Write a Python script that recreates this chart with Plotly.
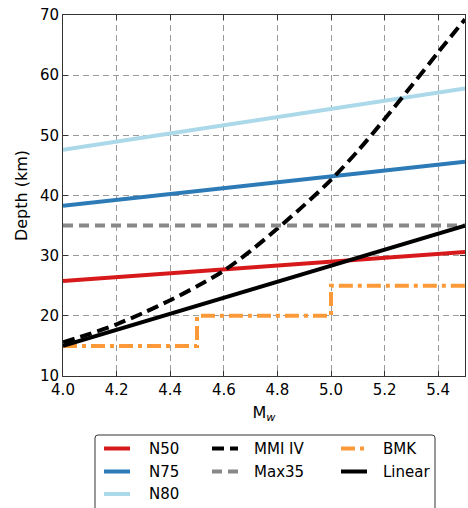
import plotly.graph_objects as go

mw_ends = [4.0, 5.5]
n50 = [25.8, 30.6]
n75 = [38.3, 45.6]
n80 = [47.6, 57.8]
max35 = [35.0, 35.0]
linear = [15.0, 35.0]

mmi_x = [4.0, 4.1, 4.2, 4.3, 4.4, 4.5, 4.6, 4.7, 4.8, 4.9, 5.0, 5.1, 5.2, 5.3, 5.4, 5.5]
mmi_y = [15.6, 17.0, 18.6, 20.5, 22.6, 24.9, 27.5, 30.8, 34.5, 38.4, 42.6, 47.4, 52.7, 58.2, 63.8, 69.3]

bmk_x = [4.0, 4.5, 4.5, 5.0, 5.0, 5.5]
bmk_y = [15, 15, 20, 20, 25, 25]

x_ticks = [4.0, 4.2, 4.4, 4.6, 4.8, 5.0, 5.2, 5.4]
y_ticks = [10, 20, 30, 40, 50, 60, 70]

legend_names = ["N50", "N75", "N80", "MMI IV", "Max35", "BMK", "Linear"]

FONT = "DejaVu Sans"
LW = 4

styles = {
    "N50": dict(color="#d7191c", width=LW),
    "N75": dict(color="#2c7bb6", width=LW),
    "N80": dict(color="#abd9e9", width=LW),
    "MMI IV": dict(color="black", width=LW, dash="12px,6px"),
    "Max35": dict(color="#888888", width=LW, dash="10px,6px"),
    "BMK": dict(color="#fc9a3a", width=LW, dash="14px,5px,4px,5px"),
    "Linear": dict(color="black", width=LW),
}

fig = go.Figure()
series = [
    ("N50", mw_ends, n50),
    ("N75", mw_ends, n75),
    ("N80", mw_ends, n80),
    ("MMI IV", mmi_x, mmi_y),
    ("Max35", mw_ends, max35),
    ("BMK", bmk_x, bmk_y),
    ("Linear", mw_ends, linear),
]
for name, xs, ys in series:
    line = dict(styles[name])
    if name == "MMI IV":
        line["shape"] = "spline"
        line["smoothing"] = 0.8
    fig.add_trace(go.Scatter(x=xs, y=ys, mode="lines", name=name,
                             line=line, showlegend=False, cliponaxis=True))

axis_common = dict(
    showline=True, linecolor="#333333", linewidth=1, mirror="allticks",
    ticks="inside", ticklen=5, tickcolor="#333333",
    showgrid=True, gridcolor="#9a9a9a", gridwidth=1, griddash="6px,4px",
    zeroline=False, tickfont=dict(family=FONT, size=15, color="black"),
)

fig.update_xaxes(range=[4.0, 5.5], tickvals=x_ticks, tickformat=".1f",
                 title=dict(text="M<sub><i>w</i></sub>", font=dict(family=FONT, size=16, color="black"), standoff=8),
                 **axis_common)
fig.update_yaxes(range=[10, 70], tickvals=y_ticks,
                 title=dict(text="Depth (km)", font=dict(family=FONT, size=16, color="black"), standoff=8),
                 **axis_common)

# ---- manual legend (paper coordinates derived from pixel layout) ----
L, R, T, B = 63, 465, 15, 376
W, H = R - L, B - T
def px(xp):
    return (xp - L) / W
def py(yp):
    return (B - yp) / H

shapes = []
annotations = []
x0, x1, y0, y1 = 95, 435, 435, 520
r = 3
path = (f"M {px(x0+r)},{py(y0)} L {px(x1-r)},{py(y0)} Q {px(x1)},{py(y0)} {px(x1)},{py(y0+r)} "
        f"L {px(x1)},{py(y1)} L {px(x0)},{py(y1)} L {px(x0)},{py(y0+r)} Q {px(x0)},{py(y0)} {px(x0+r)},{py(y0)} Z")
shapes.append(dict(type="path", xref="paper", yref="paper", path=path,
                   line=dict(color="#333333", width=1), fillcolor="white", layer="above"))

col_line_x = [104, 212, 341]
col_text_x = [147, 252, 381]
row_y = [448.5, 471.5, 494]
columns = [["N50", "N75", "N80"], ["MMI IV", "Max35"], ["BMK", "Linear"]]
for ci, col in enumerate(columns):
    for ri, name in enumerate(col):
        st = dict(styles[name])
        shapes.append(dict(type="line", xref="paper", yref="paper",
                           x0=px(col_line_x[ci]), x1=px(col_line_x[ci] + 26),
                           y0=py(row_y[ri]), y1=py(row_y[ri]),
                           line=dict(color=st["color"], width=st["width"],
                                     dash=st.get("dash", "solid")), layer="above"))
        annotations.append(dict(xref="paper", yref="paper", x=px(col_text_x[ci]), y=py(row_y[ri]),
                                text=name, showarrow=False, xanchor="left", yanchor="middle",
                                font=dict(family=FONT, size=15, color="black")))

fig.update_layout(
    width=468, height=508,
    margin=dict(l=63, r=3, t=15, b=132, autoexpand=False),
    plot_bgcolor="white", paper_bgcolor="white",
    font=dict(family=FONT, size=15, color="black"),
    showlegend=False,
    shapes=shapes, annotations=annotations,
)

fig.write_html("out.html")
